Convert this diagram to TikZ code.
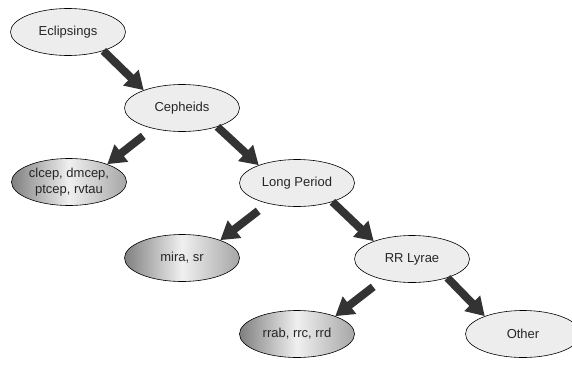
\documentclass[tikz,border=0pt]{standalone}
\usepackage{fontspec}
\setmainfont{Liberation Sans}
\usetikzlibrary{shapes.geometric,arrows.meta}

\begin{document}
\begin{tikzpicture}[x=1pt,y=-1pt,
    klass/.style={ellipse,draw=black,line width=0.6pt,fill=black!7,
        minimum width=115pt,minimum height=47pt,inner sep=0pt,align=center,
        text=black!85,font=\fontsize{13}{15.5}\selectfont},
    leaf/.style={klass,left color=black!50,right color=black!35,middle color=black!6},
    strelka/.style={line width=8pt,draw=black!80,-{Triangle[length=18pt,width=21pt]}}]

    % Размер картинки
    \useasboundingbox (0,0) rectangle (572,364);

    % Классы переменных звёзд
    \node[klass] (ecl) at (68,32) {Eclipsings};
    \node[klass] (ceph) at (182,108) {Cepheids};
    \node[leaf] (clcep) at (69,182) {clcep, dmcep,\\ptcep, rvtau};
    \node[klass] (lp) at (297,183) {Long Period};
    \node[leaf] (mira) at (182,258) {mira, sr};
    \node[klass] (rr) at (412,259) {RR Lyrae};
    \node[leaf] (rrab) at (297,334) {rrab, rrc, rrd};
    \node[klass] (other) at (523,334) {Other};

    % Стрелки вправо-вниз
    \draw[strelka] (ecl.-28) -- (ceph.155);
    \draw[strelka] (ceph.-28) -- (lp.155);
    \draw[strelka] (lp.-28) -- (rr.155);
    \draw[strelka] (rr.-28) -- (other.155);

    % Стрелки влево-вниз
    \draw[strelka,shorten <=12pt] (ceph.215) -- (clcep.25);
    \draw[strelka,shorten <=12pt] (lp.215) -- (mira.25);
    \draw[strelka,shorten <=12pt] (rr.215) -- (rrab.25);

\end{tikzpicture}
\end{document}
